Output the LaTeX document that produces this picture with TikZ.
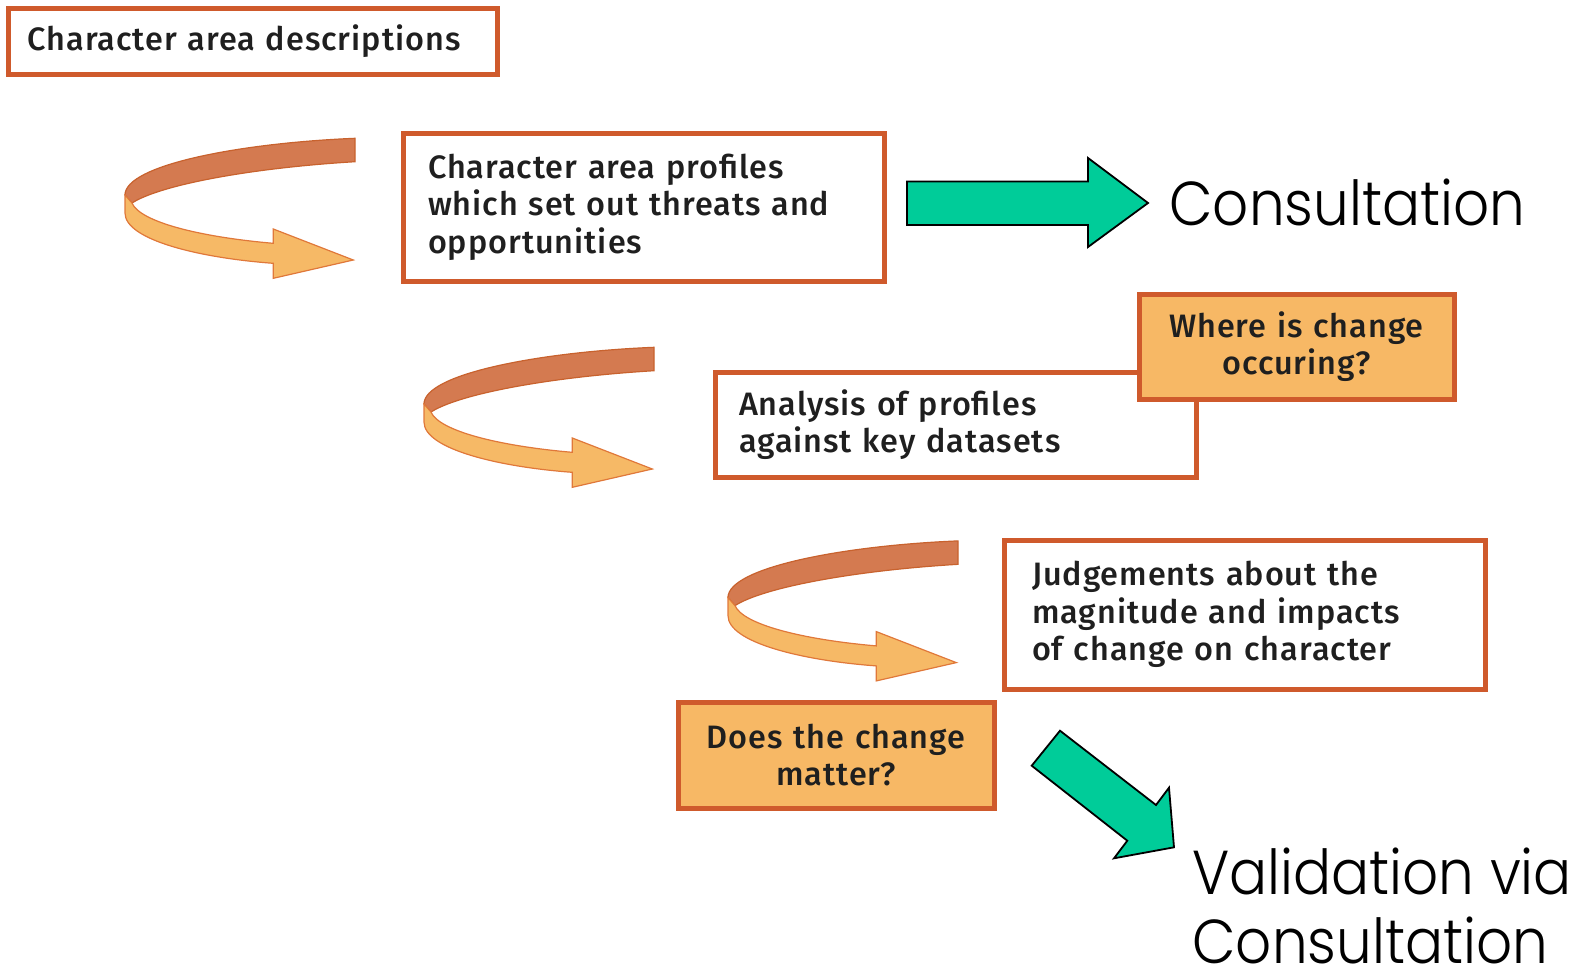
\documentclass[tikz,border=0pt]{standalone}
\usepackage{fontspec}
\setmainfont{Fira Sans Medium}[LetterSpace=3]
\newfontfamily\bigfont{Poppins Light}[FakeStretch=0.91]
\definecolor{boxred}{HTML}{CF5A2C}
\definecolor{boxfill}{HTML}{F7B865}
\definecolor{darkband}{HTML}{D47A50}
\definecolor{darkedge}{HTML}{C8622E}
\definecolor{lightband}{HTML}{F6B966}
\definecolor{lightedge}{HTML}{E0783A}
\definecolor{teal}{HTML}{00CC99}
\begin{document}
\begin{tikzpicture}[x=0.5pt,y=-0.5pt,
  box/.style={draw=boxred, line width=2.5pt, fill=white, inner sep=0pt, align=left,
    font=\fontsize{16.2}{18.75}\selectfont, text=black!88},
  qbox/.style={box, fill=boxfill, align=center},
  dband/.style={fill=darkband, draw=darkedge, line width=0.6pt},
  lband/.style={fill=lightband, draw=lightedge, line width=0.6pt},
  garrow/.style={fill=teal, draw=black, line width=0.9pt, line join=miter},
  bigtext/.style={font=\bigfont\fontsize{31}{35}\selectfont, inner sep=0pt, anchor=base west}]
\useasboundingbox (0,0) rectangle (1590,970);

% curved arrows
\foreach \dx/\dy in {0/0, 299/209, 603/402.6}{
  \begin{scope}[shift={(\dx,\dy)}]
    \draw[dband] (355,138.3) .. controls (240,143) and (125,165) .. (125,195)
      -- (132,203) .. controls (160,185) and (250,168) .. (355,161.7) -- cycle;
    \draw[lband] (125,195) -- (125,213) .. controls (125,240) and (200,258) .. (273.3,263.3)
      -- (273.3,278.3) -- (353.3,260) -- (273.3,229) -- (273.3,243.3)
      .. controls (200,237) and (140,222) .. (132,203) -- cycle;
  \end{scope}
}

% boxes (sizes in pt = px/2)
\node[box, minimum width=244.5pt, minimum height=33pt, text width=225pt] (cad) at (252.5,41) {Character area descriptions};
\node[box, minimum width=240.5pt, minimum height=74pt, text width=215.5pt] (cap) at (643.5,207)
  {Character area profiles\\which set out threats and\\opportunities};
\node[box, minimum width=240.5pt, minimum height=52.5pt, text width=216.5pt] (ana) at (955.5,424.5)
  {Analysis of profiles\\against key datasets};
\node[qbox, minimum width=157.5pt, minimum height=52.5pt, text width=145pt] (where) at (1296.5,346.5)
  {Where is change\\occuring?};
\node[box, minimum width=240.5pt, minimum height=74.5pt, text width=212.5pt] (judge) at (1244.5,614.5)
  {Judgements about the\\magnitude and impacts\\of change on character};
\node[qbox, minimum width=158pt, minimum height=53pt, text width=145pt] (does) at (836,755)
  {Does the change\\matter?};

% green arrows
\draw[garrow] (907,181.5) -- (1088,181.5) -- (1088,158) -- (1148,203) -- (1088,247)
  -- (1088,225) -- (907,225) -- cycle;
\draw[garrow] (1031.7,765.7) -- (1060,730.7) -- (1156,805) -- (1169,787.7) -- (1174,847.3)
  -- (1114,858.3) -- (1127.3,840.7) -- cycle;

% big labels
\node[bigtext] (cons) at (1169,225) {Consultation};
\node[bigtext] (val1) at (1192,894) {Validation via};
\node[bigtext] (val2) at (1192,963) {Consultation};
\end{tikzpicture}
\end{document}
